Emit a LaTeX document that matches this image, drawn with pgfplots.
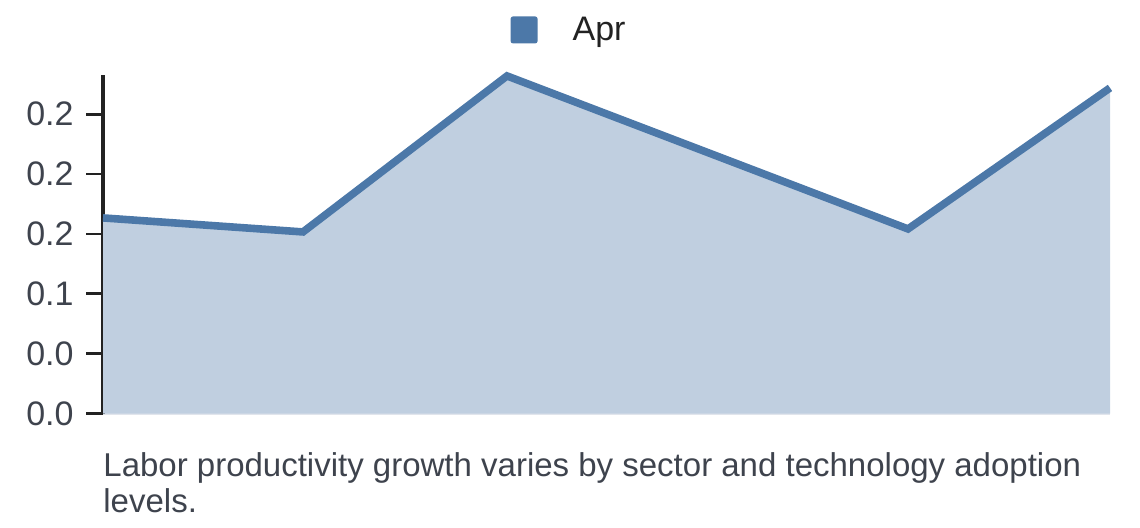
\documentclass[border=0pt]{standalone}
\usepackage{fontspec}
\setmainfont{Liberation Sans}
\usepackage{pgfplots}
\pgfplotsset{compat=1.18}
\definecolor{linec}{HTML}{4C78A8}
\definecolor{fillc}{HTML}{C0CFE0}
\definecolor{tickc}{HTML}{3E434D}
\definecolor{axc}{HTML}{222222}
\definecolor{basec}{HTML}{E1E5EC}
\begin{document}
\begin{tikzpicture}
\path (0,0) rectangle (570pt,264pt);
\begin{axis}[
  at={(51.5pt,57.15pt)}, anchor=south west,
  scale only axis, width=503.5pt, height=169.35pt,
  xmin=103, xmax=1110, ymin=0, ymax=0.2827,
  clip=false,
  axis y line=left, axis x line=bottom,
  x axis line style={-, draw=basec, line width=1pt},
  y axis line style={-, draw=axc, line width=1.6pt},
  xtick=\empty,
  ytick={0,0.05,0.1,0.15,0.2,0.25},
  yticklabels={0.0,0.0,0.1,0.2,0.2,0.2},
  tick align=outside,
  major tick length=8.5pt,
  tick style={draw=axc, line width=1.4pt},
  yticklabel style={font=\fontsize{17}{20}\selectfont, text=tickc, inner sep=0pt, anchor=east, xshift=-6pt},
  /pgf/number format/assume math mode=true,
  legend style={at={(0.4618,1.133)}, anchor=center, draw=none, fill=none,
    inner sep=0pt, font=\fontsize{17}{20}\selectfont, text=axc,
    nodes={inner sep=0pt, anchor=west}},
  legend image code/.code={
    \fill[draw=none, fill=linec, rounded corners=1.2pt] (0pt,-6.75pt) rectangle (13.5pt,6.75pt);
    \path[draw=none] (0pt,0pt) -- (31pt,0pt);
  },
]
\addplot[fill=fillc, draw=none, forget plot] coordinates {
  (103,0.1634) (303,0.1517) (507,0.2819) (908,0.1542) (1110,0.2719)
} \closedcycle;
\addplot[draw=linec, line width=3.8pt] coordinates {
  (103,0.1634) (303,0.1517) (507,0.2819) (908,0.1542) (1110,0.2719)
};
\addlegendentry{Apr}
\end{axis}
\node[anchor=base west, inner sep=0pt, text=tickc, font=\fontsize{16.5}{20}\selectfont] at (51.5pt,25.65pt) {Labor productivity growth varies by sector and technology adoption};
\node[anchor=base west, inner sep=0pt, text=tickc, font=\fontsize{16.5}{20}\selectfont] at (51.5pt,7.65pt) {levels.};
\end{tikzpicture}
\end{document}
